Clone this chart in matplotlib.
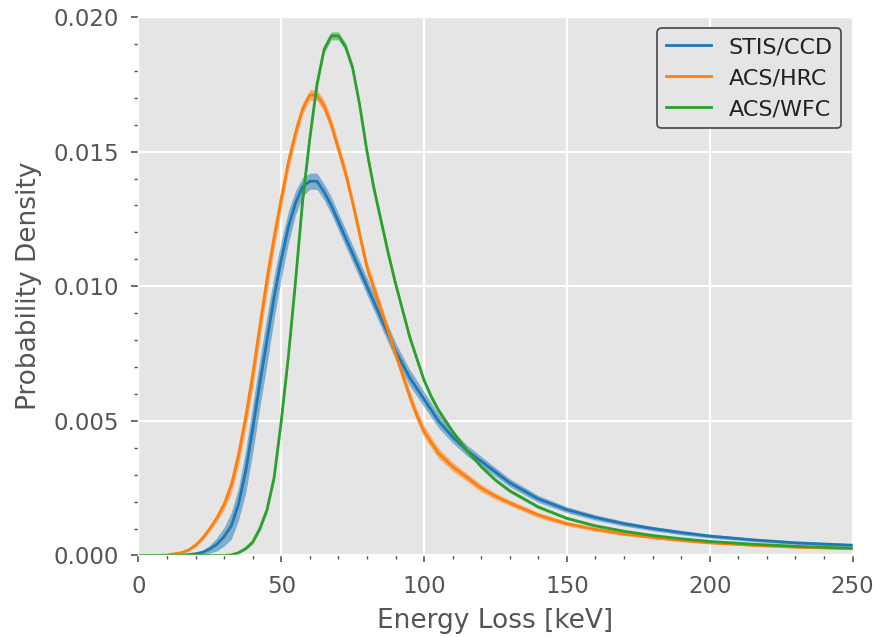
import numpy as np
import matplotlib.pyplot as plt
from matplotlib.ticker import MultipleLocator, FormatStrFormatter

# energy grid [keV]
energy = [0, 5, 10,
          15, 17.5, 20, 22.5, 25, 27.5, 30, 32.5, 35, 37.5, 40, 42.5, 45, 47.5,
          50, 52.5, 55, 57.5, 60, 62.5, 65, 67.5, 70, 72.5, 75, 77.5, 80, 82.5,
          85, 87.5, 90, 92.5, 95, 97.5, 100, 102.5, 105, 107.5, 110,
          115, 120, 125, 130, 140, 150, 160, 170, 180, 190, 200, 215, 230, 250]

labels = ['STIS/CCD', 'ACS/HRC', 'ACS/WFC']
colors = ['#1f77b4', '#ff7f0e', '#2ca02c']

stis_ccd = [0, 0, 0,
            0.00001, 0.00003, 0.00006, 0.00012, 0.00024, 0.00042, 0.0007, 0.0011,
            0.0019, 0.0031, 0.0047, 0.0064, 0.0080, 0.0096, 0.0110, 0.0122, 0.0131,
            0.0137, 0.0139, 0.0139, 0.0135, 0.0130, 0.0124, 0.0118, 0.0112, 0.0106,
            0.0100, 0.0094, 0.0088, 0.0082, 0.0076, 0.0071, 0.0066, 0.0062, 0.0058,
            0.0054, 0.0050, 0.0047, 0.0044,
            0.0039, 0.0035, 0.0031, 0.0027, 0.0021, 0.0017, 0.00141, 0.00118, 0.0010,
            0.00085, 0.00072, 0.00058, 0.00047, 0.00038]
stis_err = [0, 0, 0,
            0.00001, 0.00002, 0.00004, 0.00008, 0.00015, 0.00025, 0.00035, 0.0005,
            0.0006, 0.0008, 0.0009, 0.0009, 0.0009, 0.0008, 0.0007, 0.0006, 0.00045,
            0.00035, 0.0003, 0.0003, 0.0003, 0.00032, 0.00032, 0.00032, 0.00032, 0.00032,
            0.00032, 0.00032, 0.00032, 0.00032, 0.00031, 0.0003, 0.0003, 0.00029, 0.00028,
            0.00027, 0.00025, 0.00024, 0.00022,
            0.0002, 0.00018, 0.00016, 0.00015, 0.00013, 0.00011, 0.0001, 0.00009, 0.00008,
            0.00008, 0.00007, 0.00006, 0.00006, 0.00005]

acs_hrc = [0, 0, 0.00002,
           0.0001, 0.0002, 0.00038, 0.00065, 0.0010, 0.0014, 0.0019, 0.0026,
           0.0037, 0.0051, 0.0067, 0.0085, 0.01025, 0.0118, 0.01325, 0.0146, 0.0157,
           0.0166, 0.0171, 0.0171, 0.0167, 0.0160, 0.0151, 0.0142, 0.0131, 0.0119,
           0.0107, 0.0099, 0.0091, 0.0083, 0.0075, 0.0067, 0.0059, 0.0052, 0.0046,
           0.0042, 0.0038, 0.00355, 0.0033,
           0.0029, 0.0025, 0.0022, 0.00195, 0.0015, 0.00118, 0.00097, 0.0008, 0.00067,
           0.00056, 0.00047, 0.00038, 0.00031, 0.00025]
hrc_err = [0, 0, 0.00001,
           0.00003, 0.00005, 0.00007, 0.0001, 0.0001, 0.00015, 0.0002, 0.0003,
           0.0004, 0.00045, 0.0005, 0.0005, 0.0005, 0.00045, 0.0004, 0.00035, 0.0003,
           0.00022, 0.0002, 0.0002, 0.00022, 0.00025, 0.00025, 0.00025, 0.00025, 0.00025,
           0.00025, 0.00025, 0.00025, 0.00022, 0.00022, 0.00022, 0.00022, 0.00022, 0.00022,
           0.0002, 0.00019, 0.00018, 0.00017,
           0.00015, 0.00014, 0.00012, 0.00011, 0.0001, 0.00008, 0.00007, 0.00006, 0.00005,
           0.00005, 0.00004, 0.00004, 0.00003, 0.00003]

acs_wfc = [0, 0, 0,
           0, 0, 0, 0, 0, 0, 0, 0.00002,
           0.0001, 0.00025, 0.0005, 0.0010, 0.0017, 0.0029, 0.0050, 0.0074, 0.0102,
           0.0132, 0.0155, 0.0175, 0.0188, 0.0193, 0.0193, 0.0189, 0.0181, 0.0167,
           0.0150, 0.0136, 0.0124, 0.0112, 0.0101, 0.0091, 0.0081, 0.0073, 0.0065,
           0.0059, 0.0054, 0.0050, 0.0046,
           0.0039, 0.0033, 0.0028, 0.0024, 0.0018, 0.00138, 0.0011, 0.0009, 0.00074,
           0.00062, 0.00052, 0.00042, 0.00034, 0.00027]
wfc_err = [0, 0, 0,
           0, 0, 0, 0, 0, 0, 0, 0.00001,
           0.00003, 0.00005, 0.00008, 0.0001, 0.00013, 0.00016, 0.0002, 0.0002, 0.0002,
           0.0002, 0.00018, 0.00016, 0.00015, 0.00015, 0.00015, 0.00015, 0.00016, 0.00017,
           0.00018, 0.00018, 0.00017, 0.00016, 0.00015, 0.00014, 0.00013, 0.00012, 0.00012,
           0.00011, 0.00011, 0.0001, 0.0001,
           0.00009, 0.00008, 0.00007, 0.00007, 0.00006, 0.00005, 0.00005, 0.00004, 0.00004,
           0.00003, 0.00003, 0.00003, 0.00002, 0.00002]

plt.style.use('ggplot')
plt.rcParams['font.family'] = ['DejaVu Sans']

fig = plt.figure(figsize=(8.78, 6.37), dpi=100)
ax = fig.add_axes([0.1577, 0.128, 0.8133, 0.8453])

x = np.array(energy)
for y, err, lab, c in zip([stis_ccd, acs_hrc, acs_wfc], [stis_err, hrc_err, wfc_err], labels, colors):
    y = np.array(y)
    err = np.array(err)
    ax.fill_between(x, y - err, y + err, color=c, alpha=0.5, lw=0)
    ax.plot(x, y, color=c, lw=2, label=lab)

ax.set_xlim(0, 250)
ax.set_ylim(0, 0.020)
ax.xaxis.set_major_locator(MultipleLocator(50))
ax.xaxis.set_minor_locator(MultipleLocator(10))
ax.yaxis.set_major_locator(MultipleLocator(0.005))
ax.yaxis.set_minor_locator(MultipleLocator(0.001))
ax.yaxis.set_major_formatter(FormatStrFormatter('%.3f'))

ax.grid(True, which='major', color='white', lw=1.6)
ax.grid(False, which='minor')
ax.tick_params(which='major', direction='out', length=5, width=1.2, pad=9,
               colors='#555555', labelsize=16.5)
ax.tick_params(which='minor', direction='out', length=3, width=1.0, colors='#555555')
ax.tick_params(axis='x', which='minor', bottom=True)
ax.tick_params(axis='y', which='minor', left=True)

ax.set_xlabel('Energy Loss [keV]', fontsize=19, color='#555555', labelpad=7)
ax.set_ylabel('Probability Density', fontsize=19, color='#555555', labelpad=8)

leg = ax.legend(loc='upper right', fontsize=16, facecolor='#E5E5E5', edgecolor='#444444',
                framealpha=1.0, fancybox=True)
leg.get_frame().set_linewidth(1.2)
for t in leg.get_texts():
    t.set_color('#222222')

fig.savefig('out.png', dpi=100)
